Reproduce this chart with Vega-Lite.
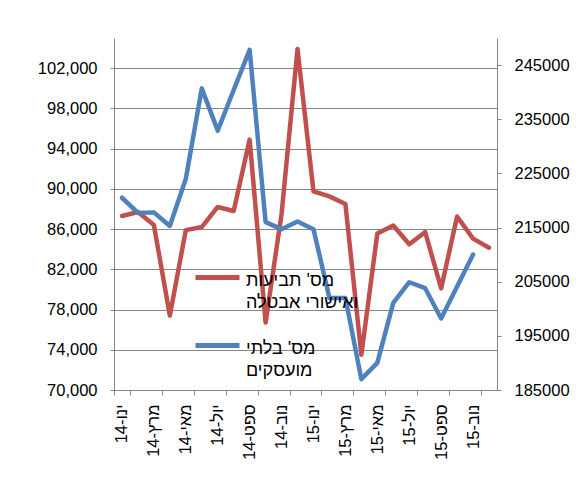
{
  "$schema": "https://vega.github.io/schema/vega-lite/v6.json",
  "autosize": {"type": "none"},
  "padding": {"left": 114, "top": 38, "right": 88, "bottom": 109},
  "width": 383,
  "height": 352,
  "background": "white",
  "config": {
    "view": {"stroke": null},
    "font": "Liberation Sans",
    "axis": {"domainColor": "#868686", "tickColor": "#868686", "gridColor": "#868686", "labelColor": "#000000", "labelFont": "Liberation Sans", "labelFontSize": 16.5, "title": null}
  },
  "data": {
    "values": [
      {"month": "ינו-14", "claims": 87300, "unemployed": 220500},
      {"month": "פבר-14", "claims": 87700, "unemployed": 217700},
      {"month": "מרץ-14", "claims": 86400, "unemployed": 217800},
      {"month": "אפר-14", "claims": 77400, "unemployed": 215300},
      {"month": "מאי-14", "claims": 85900, "unemployed": 224000},
      {"month": "יונ-14", "claims": 86200, "unemployed": 240700},
      {"month": "יול-14", "claims": 88200, "unemployed": 232900},
      {"month": "אוג-14", "claims": 87800, "unemployed": 240400},
      {"month": "ספט-14", "claims": 94900, "unemployed": 247800},
      {"month": "אוק-14", "claims": 76700, "unemployed": 216000},
      {"month": "נוב-14", "claims": 87500, "unemployed": 214700},
      {"month": "דצמ-14", "claims": 103900, "unemployed": 216100},
      {"month": "ינו-15", "claims": 89750, "unemployed": 214700},
      {"month": "פבר-15", "claims": 89250, "unemployed": 202000},
      {"month": "מרץ-15", "claims": 88500, "unemployed": 202000},
      {"month": "אפר-15", "claims": 73500, "unemployed": 187000},
      {"month": "מאי-15", "claims": 85550, "unemployed": 190000},
      {"month": "יונ-15", "claims": 86350, "unemployed": 201100},
      {"month": "יול-15", "claims": 84500, "unemployed": 204900},
      {"month": "אוג-15", "claims": 85700, "unemployed": 203800},
      {"month": "ספט-15", "claims": 80100, "unemployed": 198200},
      {"month": "אוק-15", "claims": 87250, "unemployed": 204100},
      {"month": "נוב-15", "claims": 85050, "unemployed": 210000},
      {"month": "דצמ-15", "claims": 84150, "unemployed": null}
    ]
  },
  "encoding": {
    "x": {
      "field": "month",
      "type": "ordinal",
      "sort": null,
      "scale": {"type": "band", "paddingInner": 0, "paddingOuter": 0},
      "axis": {
        "values": ["ינו-14", "מרץ-14", "מאי-14", "יול-14", "ספט-14", "נוב-14", "ינו-15", "מרץ-15", "מאי-15", "יול-15", "ספט-15", "נוב-15"],
        "tickBand": "extent",
        "labelAngle": -90,
        "tickSize": 5,
        "labelPadding": 9,
        "labelExpr": "'\u202B' + datum.label + '\u202C'",
        "grid": false
      }
    }
  },
  "layer": [
    {
      "mark": {"type": "line", "strokeWidth": 4.5, "strokeJoin": "round", "strokeCap": "round"},
      "encoding": {
        "y": {
          "field": "claims",
          "type": "quantitative",
          "scale": {"domain": [70000, 105000], "nice": false, "zero": false},
          "axis": {
            "orient": "left",
            "values": [70000, 74000, 78000, 82000, 86000, 90000, 94000, 98000, 102000],
            "format": ",d",
            "grid": true,
            "tickSize": 4,
            "labelPadding": 13
          }
        },
        "color": {
          "datum": "מס' תביעות ואישורי אבטלה",
          "type": "nominal",
          "scale": {"domain": ["מס' תביעות ואישורי אבטלה", "מס' בלתי מועסקים"], "range": ["#C0504D", "#4F81BD"]},
          "legend": {
            "orient": "none",
            "legendX": 79,
            "legendY": 215,
            "title": null,
            "symbolType": "stroke",
            "symbolSize": 1936,
            "symbolStrokeWidth": 5,
            "labelFont": "Liberation Sans",
            "labelFontSize": 18,
            "labelColor": "#000000",
            "labelOffset": 4,
            "labelBaseline": "middle",
            "rowPadding": 9,
            "labelExpr": "datum.label == \"מס' תביעות ואישורי אבטלה\" ? [\"מס' תביעות\", \"ואישורי אבטלה\"] : [\"מס' בלתי\", \"מועסקים\"]",
            "encode": {"labels": {"update": {"dy": {"value": 3}, "lineHeight": {"value": 22}}}}
          }
        }
      }
    },
    {
      "mark": {"type": "line", "strokeWidth": 4.5, "strokeJoin": "round", "strokeCap": "round"},
      "encoding": {
        "y": {
          "field": "unemployed",
          "type": "quantitative",
          "scale": {"domain": [185000, 250000], "nice": false, "zero": false},
          "axis": {
            "orient": "right",
            "values": [185000, 195000, 205000, 215000, 225000, 235000, 245000],
            "format": "d",
            "grid": false,
            "tickSize": 4,
            "labelPadding": 13
          }
        },
        "color": {"datum": "מס' בלתי מועסקים", "type": "nominal"}
      }
    }
  ],
  "resolve": {"scale": {"y": "independent"}}
}
